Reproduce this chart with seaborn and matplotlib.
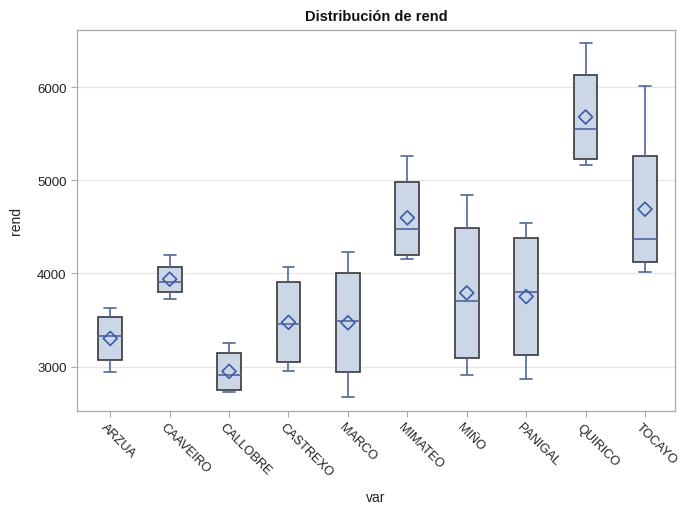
import pandas as pd
import numpy as np
import seaborn as sns
import matplotlib.pyplot as plt
from matplotlib.transforms import ScaledTranslation

# five-number summaries (min, q1, median, q3, max) + mean
varieties = ['ARZUA', 'CAAVEIRO', 'CALLOBRE', 'CASTREXO', 'MARCO',
             'MIMATEO', 'MIÑO', 'PANIGAL', 'QUIRICO', 'TOCAYO']
rend_min = [2946, 3726, 2726, 2953, 2672, 4150, 2909, 2863, 5161, 4010]
rend_q1 = [3075, 3805, 2752, 3046, 2946, 4200, 3093, 3122, 5225, 4122]
rend_median = [3324, 3913, 2906, 3453, 3489, 4481, 3704, 3798, 5546, 4370]
rend_q3 = [3529, 4071, 3151, 3913, 4000, 4985, 4489, 4381, 6124, 5255]
rend_max = [3626, 4200, 3248, 4064, 4231, 5265, 4840, 4538, 6474, 6013]
rend_mean = [3302, 3938, 2949, 3475, 3470, 4597, 3791, 3751, 5679, 4689]

rows = []
for i, v in enumerate(varieties):
    for val in (rend_min[i], rend_q1[i], rend_median[i], rend_q3[i], rend_max[i]):
        rows.append({'var': v, 'rend': val})
data = pd.DataFrame(rows)
means = pd.DataFrame({'var': varieties, 'rend': rend_mean})

sns.set_style('white')
plt.rcParams['font.family'] = ['Liberation Sans', 'DejaVu Sans']

fig = plt.figure(figsize=(6.8, 5.06), dpi=100)
ax = fig.add_axes([0.1132, 0.1864, 0.8790, 0.7523])

line_col = '#53669c'
sns.boxplot(data=data, x='var', y='rend', order=varieties, whis=(0, 100),
            width=0.4, linewidth=1.2, ax=ax,
            boxprops=dict(facecolor='#cbd6e6', edgecolor='#383838'),
            whiskerprops=dict(color=line_col),
            capprops=dict(color=line_col),
            medianprops=dict(color=line_col),
            showfliers=False)
sns.scatterplot(data=means, x='var', y='rend', marker='D', s=50,
                facecolor='none', edgecolor='#3a5ba8', linewidth=1.2,
                ax=ax, zorder=5)

ax.set_xlim(-0.56, 9.5)
ax.set_ylim(2527, 6612)
ax.set_yticks([3000, 4000, 5000, 6000])
ax.yaxis.grid(True, color='#e6e6e6', linewidth=0.9)
ax.set_axisbelow(True)
for s in ax.spines.values():
    s.set_color('#a8a8a8')
    s.set_linewidth(0.9)

ax.tick_params(axis='both', length=4, color='#a8a8a8', labelsize=9.5,
               labelcolor='#222222', bottom=True, left=True)
ax.tick_params(axis='x', labelsize=9.2)
plt.setp(ax.get_xticklabels(), rotation=-45, ha='left', va='top',
         rotation_mode='anchor')
# nudge the rotated labels a little to the left, as in the original
shift = ScaledTranslation(-3 / 100, 0, fig.dpi_scale_trans)
for lab in ax.get_xticklabels():
    lab.set_transform(lab.get_transform() + shift)

ax.set_xlabel('var', fontsize=10, color='#222222', labelpad=8)
ax.set_ylabel('rend', fontsize=10, color='#222222', labelpad=10)
ax.set_title('Distribución de rend', fontsize=10.5, fontweight='bold',
             color='#111111', pad=7)

fig.savefig('out.png', dpi=100)
